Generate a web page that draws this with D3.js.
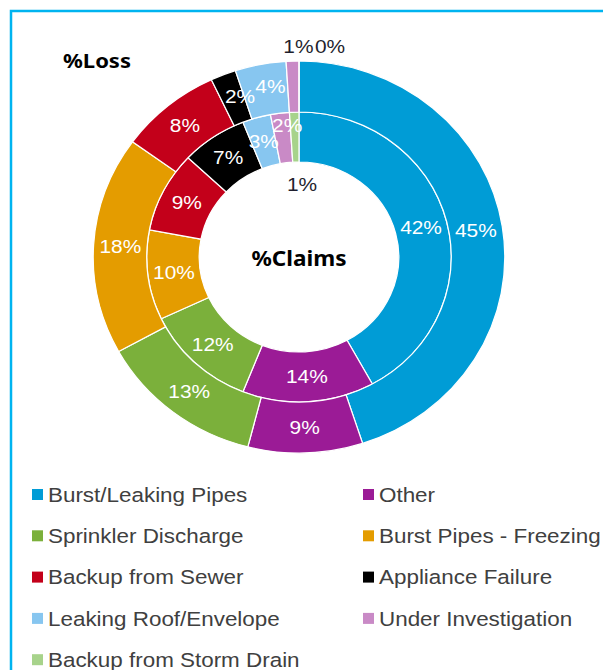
<!DOCTYPE html>
<html>
<head>
<meta charset="utf-8">
<script src="https://cdn.jsdelivr.net/npm/d3@7"></script>
<style>
  body { margin: 0; background: #fff; }
  svg { display: block; }
</style>
</head>
<body>
<div id="chart"></div>
<script>
// categories in the order Excel draws them (clockwise from 12 o'clock)
const categories = [
    "Burst/Leaking Pipes", "Other", "Sprinkler Discharge", "Burst Pipes - Freezing",
    "Backup from Sewer", "Appliance Failure", "Leaking Roof/Envelope",
    "Under Investigation", "Backup from Storm Drain"
];
const claimsPct = [42, 14, 12, 10, 9, 7, 3, 2, 1];   // inner ring
const lossPct   = [45, 9, 13, 18, 8, 2, 4, 1, 0];    // outer ring
const colors = ["#009cd6", "#9b1b96", "#7bb03b", "#e49c00", "#c3001a",
                "#000000", "#87c6f0", "#c98ac6", "#a7d38b"];

const width = 603, height = 670;
const cx = 299, cy = 257;
const sx = 1.05;           // picture is a bit wider than tall
const textSx = 1.1;
const rings = {
    claims: {inner: 95, outer: 145},
    loss: {inner: 145, outer: 196}
};

// Excel moved a few labels to avoid overlaps
const labelNudge = {
    claims: {7: [4, -13], 8: [7, 47]},
    loss: {5: [7, -2], 6: [5, -3], 7: [5, -40], 8: [31, -40]}
};
const darkLabels = {claims: [8], loss: [7, 8]};

const svg = d3.select("#chart").append("svg")
    .attr("width", width)
    .attr("height", height);

// light blue frame, runs off the right and bottom
svg.append("path")
    .attr("d", "M11," + height + "V11H" + width)
    .attr("fill", "none")
    .attr("stroke", "#00b4f0")
    .attr("stroke-width", 2.5);

const pie = d3.pie().sort(null).value(d => d);

function drawRing(key, values) {
    const r = rings[key];
    const arc = d3.arc().innerRadius(r.inner).outerRadius(r.outer);
    const slices = pie(values);

    const g = svg.append("g")
        .attr("transform", "translate(" + cx + "," + cy + ") scale(" + sx + ",1)");

    g.selectAll("path")
        .data(slices)
        .join("path")
        .attr("d", arc)
        .attr("fill", (d, i) => colors[i])
        .attr("stroke", "#fff")
        .attr("stroke-width", 1.2);

    const rm = (r.inner + r.outer) / 2;
    svg.append("g").selectAll("text")
        .data(slices)
        .join("text")
        .attr("transform", (d, i) => {
            const a = (d.startAngle + d.endAngle) / 2;
            const n = labelNudge[key][i] || [0, 0];
            const x = cx + sx * rm * Math.sin(a) + n[0];
            const y = cy - rm * Math.cos(a) + n[1];
            return "translate(" + x + "," + y + ") scale(" + textSx + ",1)";
        })
        .attr("text-anchor", "middle")
        .attr("dy", "0.35em")
        .attr("font-family", "'Liberation Sans', Arial, sans-serif")
        .attr("font-size", 19)
        .attr("fill", (d, i) => darkLabels[key].includes(i) ? "#1f1f2e" : "#fff")
        .text(d => d.data + "%");
}

drawRing("claims", claimsPct);
drawRing("loss", lossPct);

// ring titles
svg.append("text")
    .attr("transform", "translate(63,68) scale(" + textSx + ",1)")
    .attr("font-family", "'Noto Sans', sans-serif")
    .attr("font-weight", "bold")
    .attr("font-size", 20)
    .attr("fill", "#000")
    .text("%Loss");

svg.append("text")
    .attr("transform", "translate(" + cx + ",266) scale(" + textSx + ",1)")
    .attr("text-anchor", "middle")
    .attr("font-family", "'Noto Sans', sans-serif")
    .attr("font-weight", "bold")
    .attr("font-size", 20.5)
    .attr("fill", "#000")
    .text("%Claims");

// legend, two columns, row-major
const legendX = [32, 363], legendY0 = 495, legendStep = 41.3;
const legend = svg.append("g").selectAll("g")
    .data(categories)
    .join("g")
    .attr("transform", (d, i) =>
        "translate(" + legendX[i % 2] + "," + (legendY0 + Math.floor(i / 2) * legendStep) + ")");

legend.append("rect")
    .attr("x", 0)
    .attr("y", -6)
    .attr("width", 11)
    .attr("height", 11)
    .attr("fill", (d, i) => colors[i]);

legend.append("text")
    .attr("transform", "translate(16,0) scale(1.15,1)")
    .attr("dy", "0.35em")
    .attr("font-family", "'Liberation Sans', Arial, sans-serif")
    .attr("font-size", 19.5)
    .attr("fill", "#404040")
    .text(d => d);
</script>
</body>
</html>
